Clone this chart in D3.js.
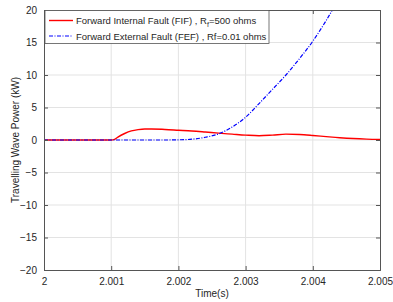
<!DOCTYPE html>
<html>
<head>
<meta charset="utf-8">
<script src="https://cdn.jsdelivr.net/npm/d3@7"></script>
<style>
  body { margin: 0; background: #fff; }
  text { font-family: "Liberation Sans", Arial, sans-serif; }
</style>
</head>
<body>
<div id="chart"></div>
<script>
// data
var xTicks = [2, 2.001, 2.002, 2.003, 2.004, 2.005];
var yTicks = [-20, -15, -10, -5, 0, 5, 10, 15, 20];

var fifTime = [2, 2.0010, 2.00105, 2.0011, 2.0012, 2.0013, 2.0014, 2.0015, 2.0016, 2.0018, 2.0020, 2.0022, 2.0024, 2.0026, 2.0028, 2.0030, 2.0032, 2.0034, 2.0036, 2.0038, 2.0040, 2.0042, 2.0044, 2.0046, 2.0048, 2.0050];
var fifPower = [0, 0, 0.1, 0.45, 1.0, 1.4, 1.6, 1.7, 1.7, 1.62, 1.5, 1.38, 1.22, 1.05, 0.9, 0.75, 0.65, 0.75, 0.9, 0.85, 0.7, 0.52, 0.35, 0.22, 0.14, 0.1];

var fefTime = [2, 2.0018, 2.0020, 2.0022, 2.0024, 2.0026, 2.0028, 2.0030, 2.0032, 2.0034, 2.0036, 2.0038, 2.0040, 2.0042, 2.0044];
var fefPower = [0, 0, 0.03, 0.12, 0.42, 0.95, 2.0, 3.5, 5.6, 7.8, 10.0, 12.5, 15.2, 18.4, 22];

var svgWidth = 393, svgHeight = 302;
var margin = {top: 10, right: 13, bottom: 32, left: 44};
var width = svgWidth - margin.left - margin.right;
var height = svgHeight - margin.top - margin.bottom;

var svg = d3.select("#chart").append("svg")
    .attr("width", svgWidth)
    .attr("height", svgHeight);

var chartGroup = svg.append("g")
    .attr("transform", `translate(${margin.left}, ${margin.top})`);

var xScale = d3.scaleLinear().domain([2, 2.005]).range([0, width]);
var yScale = d3.scaleLinear().domain([-20, 20]).range([height, 0]);

// grid
chartGroup.append("g").selectAll("line").data(xTicks.slice(1, -1)).enter().append("line")
    .attr("x1", d => xScale(d)).attr("x2", d => xScale(d))
    .attr("y1", 0).attr("y2", height)
    .attr("stroke", "#e3e3e3").attr("stroke-width", 1);
chartGroup.append("g").selectAll("line").data(yTicks.slice(1, -1)).enter().append("line")
    .attr("x1", 0).attr("x2", width)
    .attr("y1", d => yScale(d)).attr("y2", d => yScale(d))
    .attr("stroke", "#e3e3e3").attr("stroke-width", 1);

// clip
svg.append("defs").append("clipPath").attr("id", "clip")
    .append("rect").attr("width", width).attr("height", height);

var line = d3.line()
    .x(d => xScale(d[0]))
    .y(d => yScale(d[1]))
    .curve(d3.curveMonotoneX);

var plot = chartGroup.append("g").attr("clip-path", "url(#clip)");

plot.append("path")
    .datum(fifTime.map((t, i) => [t, fifPower[i]]))
    .attr("d", line)
    .attr("fill", "none")
    .attr("stroke", "#ff0000")
    .attr("stroke-width", 1.4);

plot.append("path")
    .datum(fefTime.map((t, i) => [t, fefPower[i]]))
    .attr("d", line)
    .attr("fill", "none")
    .attr("stroke", "#0000ff")
    .attr("stroke-width", 1.2)
    .attr("stroke-dasharray", "4,1.5,1,1.5");

// axes
var axisColor = "#555";
var xAxis = d3.axisBottom(xScale).tickValues(xTicks).tickFormat(d => d === 2 ? "2" : d3.format(".3f")(d)).tickSize(-4).tickPadding(8);
var yAxis = d3.axisLeft(yScale).tickValues(yTicks).tickSize(-4).tickPadding(7);

var gx = chartGroup.append("g").attr("transform", `translate(0, ${height})`).call(xAxis);
var gy = chartGroup.append("g").call(yAxis);
var gxTop = chartGroup.append("g").call(d3.axisTop(xScale).tickValues(xTicks).tickSize(-4).tickFormat(""));
var gyRight = chartGroup.append("g").attr("transform", `translate(${width}, 0)`)
    .call(d3.axisRight(yScale).tickValues(yTicks).tickSize(-4).tickFormat(""));

[gx, gy, gxTop, gyRight].forEach(g => {
    g.selectAll("path").attr("stroke", axisColor);
    g.selectAll("line").attr("stroke", axisColor);
    g.selectAll("text").attr("fill", "#262626").style("font-size", "10px")
        .style("font-family", "'Liberation Sans', Arial, sans-serif");
});
gx.selectAll("text").attr("dy", "0.71em");

// axis labels
chartGroup.append("text")
    .attr("x", width / 2).attr("y", height + 27)
    .attr("text-anchor", "middle")
    .style("font-size", "10px").attr("fill", "#262626")
    .text("Time(s)");

chartGroup.append("text")
    .attr("transform", `translate(${-25}, ${height / 2}) rotate(-90)`)
    .attr("text-anchor", "middle")
    .style("font-size", "10px").attr("fill", "#262626")
    .text("Travelling Wave Power (kW)");

// legend
var legend = chartGroup.append("g").attr("transform", "translate(1, 0.5)");
legend.append("rect")
    .attr("width", 224).attr("height", 33)
    .attr("fill", "#fff").attr("stroke", "#555").attr("stroke-width", 0.8);

var fifRow = legend.append("g").attr("transform", "translate(0, 10)");
fifRow.append("line").attr("x1", 4).attr("x2", 28).attr("y1", 0).attr("y2", 0)
    .attr("stroke", "#ff0000").attr("stroke-width", 1.4);
var t1 = fifRow.append("text").attr("x", 31).attr("y", 3.5)
    .style("font-size", "9.5px").attr("fill", "#262626");
t1.append("tspan").text("Forward Internal Fault (FIF) , R");
t1.append("tspan").attr("dy", 3).style("font-size", "7px").text("f");
t1.append("tspan").attr("dy", -3).text("=500 ohms");

var fefRow = legend.append("g").attr("transform", "translate(0, 25.5)");
fefRow.append("line").attr("x1", 4).attr("x2", 28).attr("y1", 0).attr("y2", 0)
    .attr("stroke", "#0000ff").attr("stroke-width", 1.2)
    .attr("stroke-dasharray", "4,1.5,1,1.5");
fefRow.append("text").attr("x", 31).attr("y", 3.5)
    .style("font-size", "9.5px").attr("fill", "#262626")
    .text("Forward External Fault (FEF) , Rf=0.01 ohms");
</script>
</body>
</html>
